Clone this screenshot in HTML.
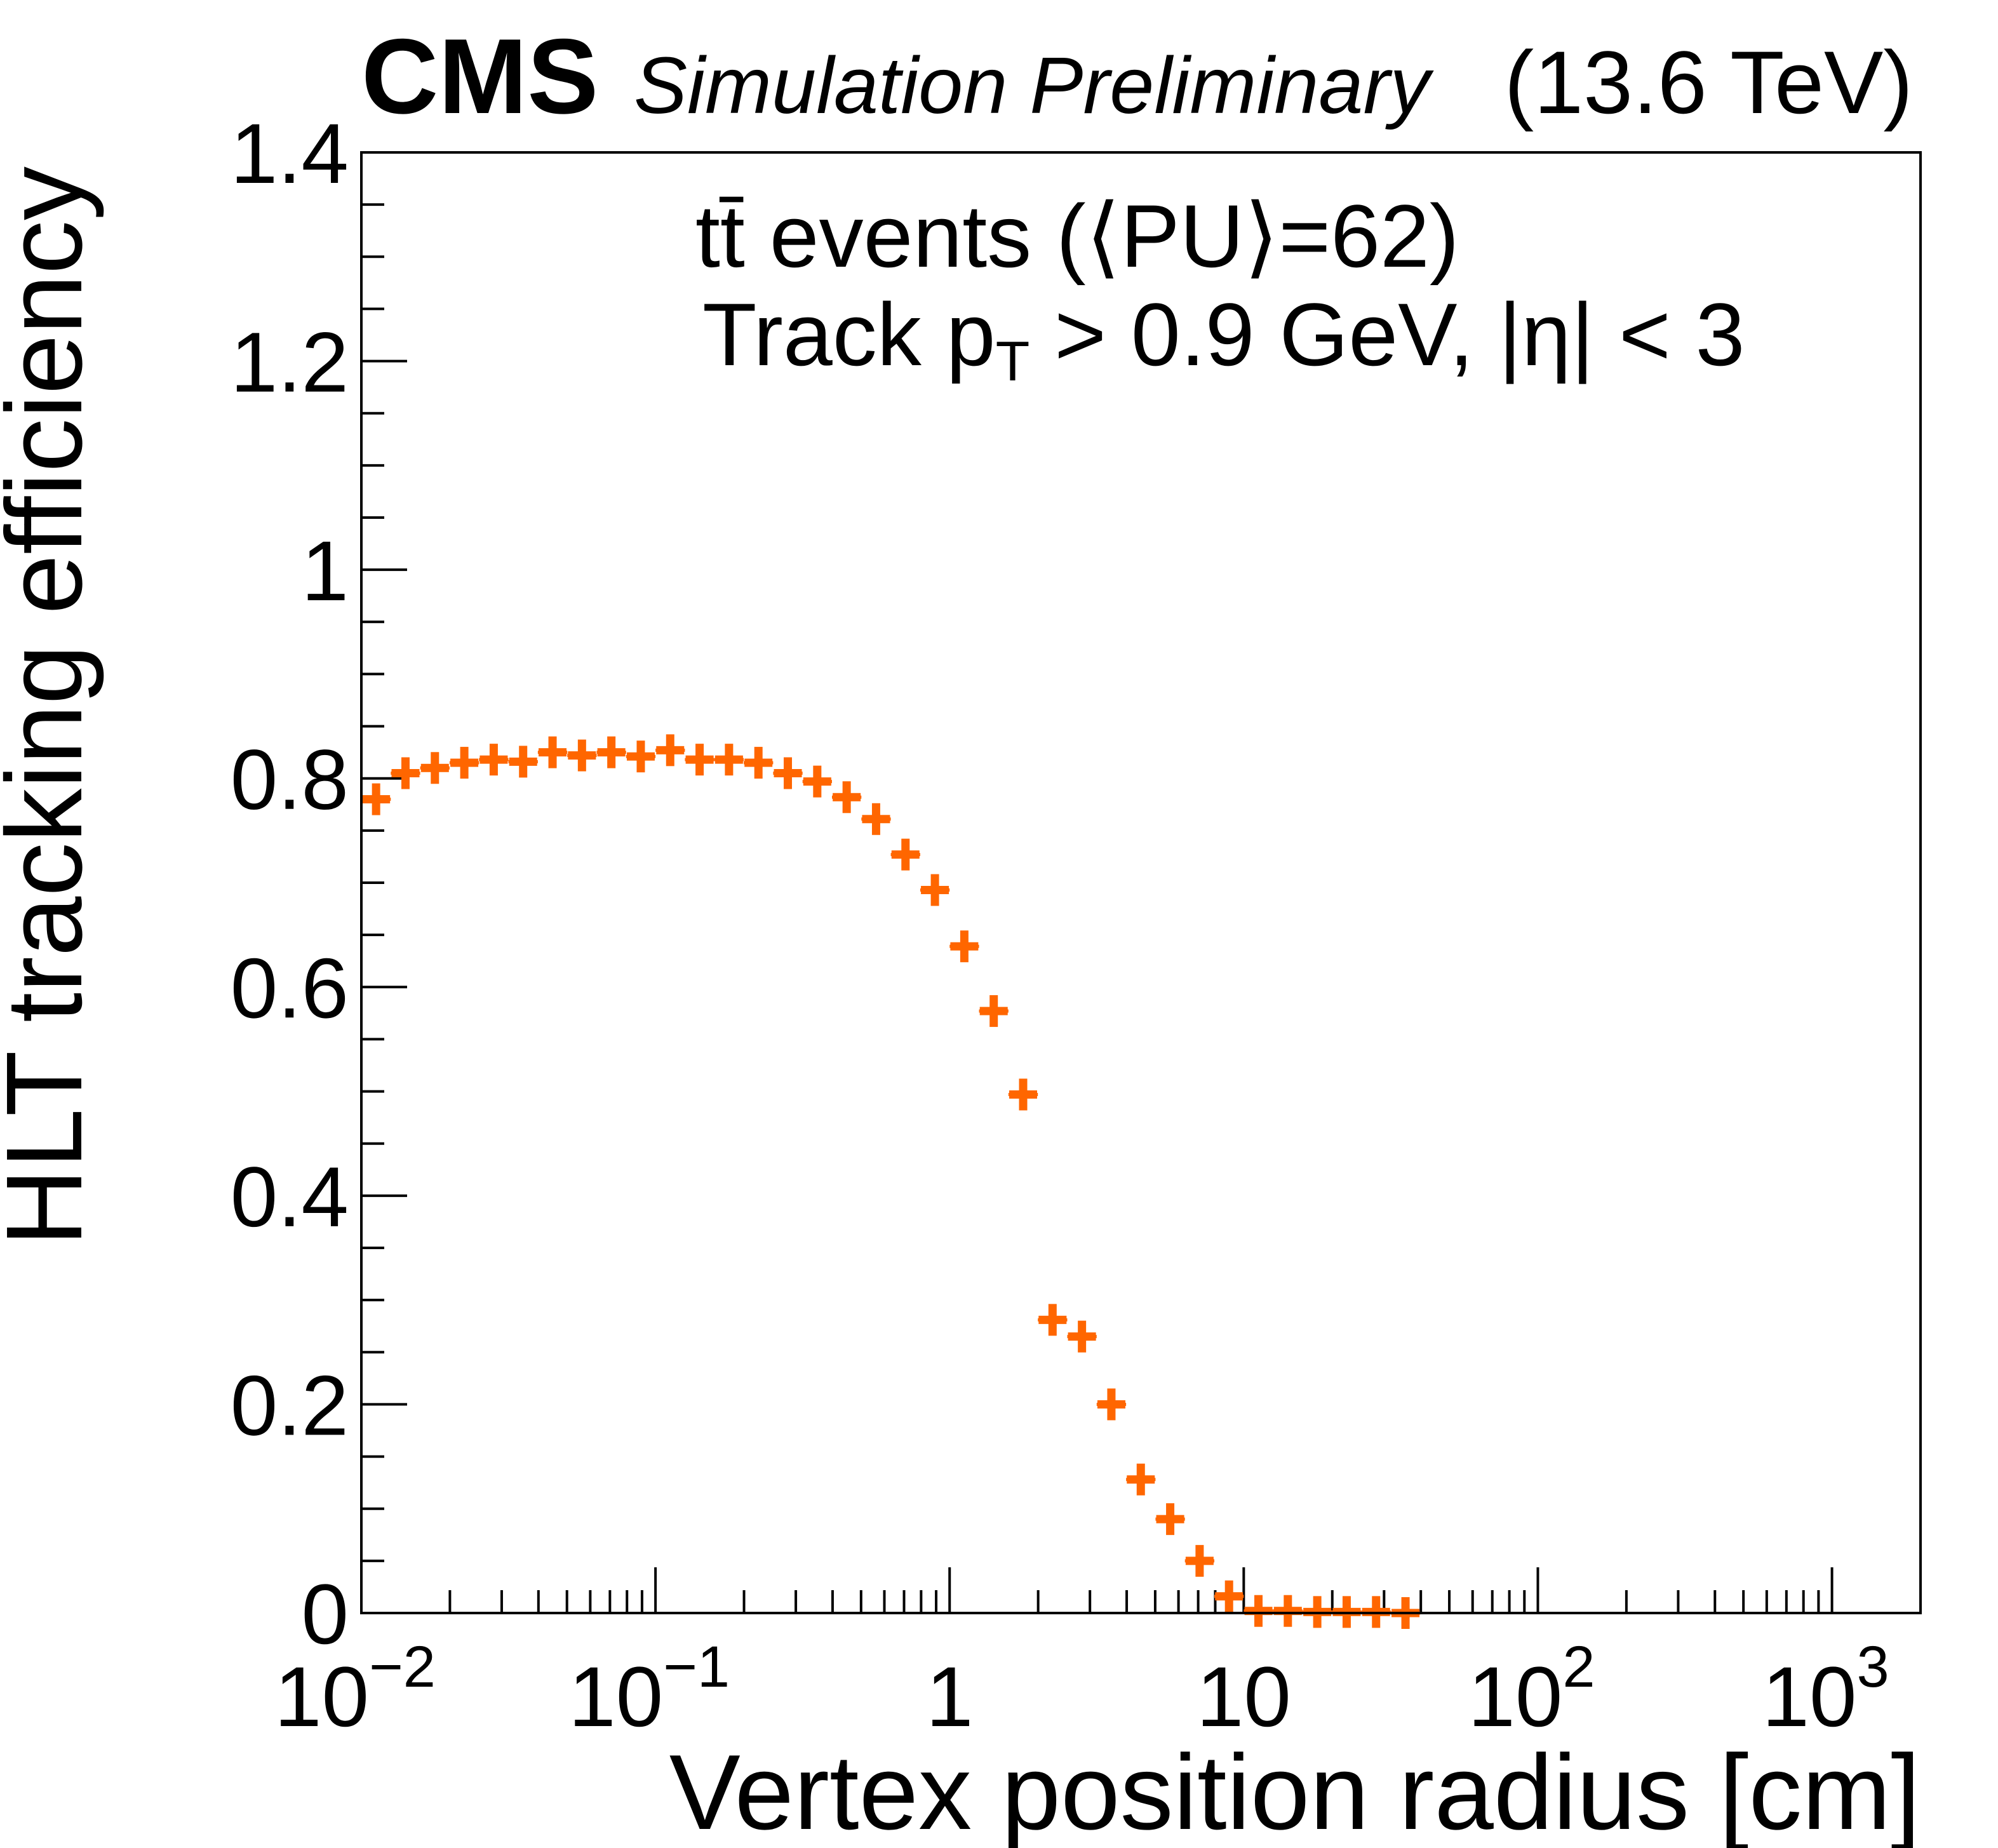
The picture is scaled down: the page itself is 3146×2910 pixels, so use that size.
<!DOCTYPE html>
<html><head><meta charset="utf-8"><style>
html,body{margin:0;padding:0;background:#fff;}
svg{display:block;font-family:"Liberation Sans",sans-serif;}
</style></head><body>
<svg id="chart" width="3146" height="2910" viewBox="0 0 3146 2910" xmlns="http://www.w3.org/2000/svg">
<rect width="3146" height="2910" fill="#fff"/>
<g id="axes"></g>
<g id="points"></g>
<rect x="569" y="240" width="2455" height="2300" fill="none" stroke="#000" stroke-width="4"/>
<text x="569" y="178" font-size="168" font-weight="bold">CMS</text>
<text x="998" y="178" font-size="126" font-style="italic">Simulation Preliminary</text>
<text x="3012" y="178" font-size="140" text-anchor="end">(13.6 TeV)</text>
<text x="1095" y="420" font-size="140">t<tspan>t̄</tspan> events (⟨PU⟩=62)</text>
<text x="1106" y="575" font-size="140">Track p<tspan font-size="88" dy="24">T</tspan><tspan dy="-24"> &gt; 0.9 GeV, |η| &lt; 3</tspan></text>
<text x="3024" y="2880" font-size="168" text-anchor="end">Vertex position radius [cm]</text>
<text transform="translate(128,262) rotate(-90)" font-size="170" text-anchor="end">HLT tracking efficiency</text>
</svg>
<script>
const binLogCenters = [-1.95,-1.85,-1.75,-1.65,-1.55,-1.45,-1.35,-1.25,-1.15,-1.05,-0.95,-0.85,-0.75,-0.65,-0.55,-0.45,-0.35,-0.25,-0.15,-0.05,0.05,0.15,0.25,0.35,0.45,0.55,0.65,0.75,0.85,0.95,1.05,1.15,1.25,1.35,1.45,1.55];
const efficiency = [0.78,0.805,0.81,0.815,0.818,0.816,0.825,0.822,0.825,0.821,0.827,0.818,0.818,0.815,0.805,0.797,0.782,0.761,0.727,0.693,0.639,0.577,0.497,0.281,0.265,0.200,0.128,0.090,0.050,0.016,0.002,0.002,0.001,0.001,0.001,0.0];
const yTicks = [0,0.2,0.4,0.6,0.8,1,1.2,1.4];
const yTickLabels = ["0","0.2","0.4","0.6","0.8","1","1.2","1.4"];
const xDecades = [-2,-1,0,1,2,3];
const xTickLabels = ["10","10","1","10","10","10"];
const xTickExps = ["−2","−1","","","2","3"];

const L=569,R=3024,T=240,B=2540;
const XMIN=-2,XMAX=Math.log10(2000),YMAX=1.4;
const sx=v=>L+(v-XMIN)/(XMAX-XMIN)*(R-L);
const sy=v=>B-v/YMAX*(B-T);
const NS="http://www.w3.org/2000/svg";
const ax=document.getElementById('axes'), pg=document.getElementById('points');
function mk(tag,attrs,parent){const e=document.createElementNS(NS,tag);for(const k in attrs)e.setAttribute(k,attrs[k]);parent.appendChild(e);return e;}

for(let v=0;v<=YMAX+1e-9;v+=0.05){
  const major=Math.abs(v/0.2-Math.round(v/0.2))<1e-6;
  const t=mk('line',{x1:L,x2:L+(major?72:36),y1:sy(v),y2:sy(v),stroke:'#000','stroke-width':4},ax);
  
  
}
yTicks.forEach((v,i)=>{
  const t=mk('text',{x:549,y:sy(v)+48,'font-size':134,'text-anchor':'end'},ax);
  t.textContent=yTickLabels[i];
  
  
});
for(let d=-2;d<=3;d++){
  for(let m=1;m<=9;m++){
    const lv=d+Math.log10(m); if(lv>XMAX) break;
    const x=sx(lv);
    const t=mk('line',{x1:x,x2:x,y1:B,y2:B-(m===1?72:36),stroke:'#000','stroke-width':4},ax);
    
    
  }
}
xDecades.forEach((d,i)=>{
  const t=mk('text',{x:sx(d),y:2718,'font-size':134,'text-anchor':'middle'},ax);
  t.textContent=xTickLabels[i];
  if(xTickExps[i]){const s=mk('tspan',{'font-size':92,dy:-62},t);s.textContent=xTickExps[i];
    t.setAttribute('x',sx(d)-10);}
  
  
});
binLogCenters.forEach((lc,i)=>{
  const x=sx(lc),y=sy(efficiency[i]);
  const x0=sx(lc-0.05),x1=sx(lc+0.05);
  const g=mk('g',{fill:'#ff6600'},pg);
  
  
  mk('rect',{x:x0,y:y-2.5,width:x1-x0,height:5},g);
  mk('rect',{x:x-22,y:y-6.5,width:44,height:13},g);
  mk('rect',{x:x-6.5,y:y-25,width:13,height:50},g);
});
</script>
</body></html>
